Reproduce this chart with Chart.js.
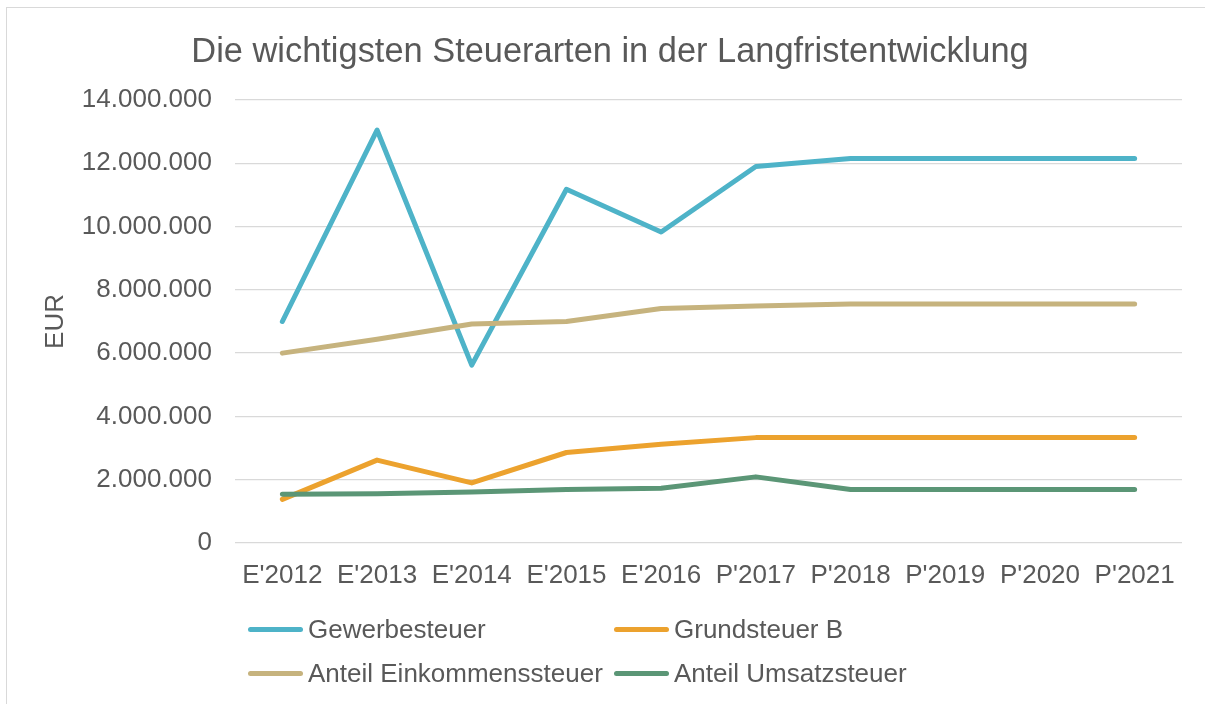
<!DOCTYPE html>
<html>
<head>
<meta charset="utf-8">
<script src="https://cdn.jsdelivr.net/npm/chart.js@4.4.1/dist/chart.umd.min.js"></script>
<style>
  html, body { margin: 0; padding: 0; background: #ffffff; width: 1205px; height: 704px; overflow: hidden; }
  body { position: relative; font-family: "Liberation Sans", Arial, sans-serif; }
  #frame { position: absolute; left: 6px; top: 7px; width: 1220px; height: 720px; border-left: 1.5px solid #d9d9d9; border-top: 1.5px solid #d9d9d9; box-sizing: border-box; }
  #wrap { position: absolute; left: 0; top: 0; width: 1205px; height: 600px; }
  #legend { position: absolute; left: 0; top: 0; width: 1205px; height: 704px; pointer-events: none; }
  .item { position: absolute; display: flex; align-items: center; height: 32px; color: #595959; font-size: 26px; white-space: nowrap; }
  .sw { width: 55px; height: 5px; border-radius: 3px; margin-right: 5px; }
</style>
</head>
<body>
<div id="frame"></div>
<div id="wrap"><canvas id="c" width="1205" height="600"></canvas></div>
<div id="legend"></div>
<script>
// ---- data ----
const categories = ["E'2012", "E'2013", "E'2014", "E'2015", "E'2016", "P'2017", "P'2018", "P'2019", "P'2020", "P'2021"];
const seriesNames = ["Gewerbesteuer", "Grundsteuer B", "Anteil Einkommenssteuer", "Anteil Umsatzsteuer"];
const gewerbesteuer = [7000000, 13050000, 5620000, 11180000, 9830000, 11900000, 12150000, 12150000, 12150000, 12150000];
const grundsteuerB = [1380000, 2620000, 1900000, 2860000, 3120000, 3330000, 3330000, 3330000, 3330000, 3330000];
const einkommensteuer = [6000000, 6440000, 6920000, 7000000, 7410000, 7490000, 7550000, 7550000, 7550000, 7550000];
const umsatzsteuer = [1540000, 1560000, 1610000, 1690000, 1730000, 2090000, 1690000, 1690000, 1690000, 1690000];
const yTicks = [0, 2000000, 4000000, 6000000, 8000000, 10000000, 12000000, 14000000];
const colors = ["#4eb3c8", "#eca22e", "#c6b37e", "#5b9676"];

const textColor = "#595959";
const fontFamily = "'Liberation Sans', Arial, sans-serif";

function fmt(v) {
  return String(Math.round(v)).replace(/\B(?=(\d{3})+(?!\d))/g, ".");
}

const seriesValues = [gewerbesteuer, grundsteuerB, einkommensteuer, umsatzsteuer];
const datasets = seriesValues.map((vals, i) => ({
  label: seriesNames[i],
  data: vals,
  borderColor: colors[i],
  backgroundColor: colors[i],
  borderWidth: 5,
  pointRadius: 0,
  pointHoverRadius: 0,
  tension: 0,
  fill: false,
  borderCapStyle: 'round',
  borderJoinStyle: 'round',
  order: seriesValues.length - i
}));

new Chart(document.getElementById('c'), {
  type: 'line',
  data: { labels: categories, datasets: datasets },
  options: {
    responsive: false,
    animation: false,
    layout: { padding: { left: 38, right: 23, top: 0, bottom: 0 } },
    plugins: {
      legend: { display: false },
      tooltip: { enabled: false },
      title: {
        display: true,
        text: 'Die wichtigsten Steuerarten in der Langfristentwicklung',
        color: textColor,
        font: { family: fontFamily, size: 34.4, weight: 'normal' },
        padding: { top: 31.5, bottom: 27.2 }
      }
    },
    scales: {
      x: {
        type: 'category',
        offset: true,
        grid: { display: false, drawTicks: false },
        border: { display: false },
        ticks: {
          color: textColor,
          font: { family: fontFamily, size: 26 },
          maxRotation: 0,
          autoSkip: false,
          padding: 17
        },
        afterFit: (s) => { s.height = 57; }
      },
      y: {
        min: 0,
        max: 14000000,
        grid: { color: '#d9d9d9', lineWidth: 1.3, drawTicks: false },
        border: { display: false },
        afterBuildTicks: (s) => { s.ticks = yTicks.map(v => ({ value: v })); },
        ticks: {
          color: textColor,
          font: { family: fontFamily, size: 26 },
          padding: 23,
          callback: (v) => fmt(v)
        },
        title: {
          display: true,
          text: 'EUR',
          color: textColor,
          font: { family: fontFamily, size: 26 },
          padding: { top: 2, bottom: 0 }
        },
        afterFit: (s) => { s.width = 197; }
      }
    }
  }
});

// HTML legend (two fixed columns like the original)
const legendPos = [[248, 613], [614, 613], [248, 657], [614, 657]];
const legendEl = document.getElementById('legend');
seriesNames.forEach((name, i) => {
  const it = document.createElement('div');
  it.className = 'item';
  it.style.left = legendPos[i][0] + 'px';
  it.style.top = legendPos[i][1] + 'px';
  const sw = document.createElement('span');
  sw.className = 'sw';
  sw.style.background = colors[i];
  const tx = document.createElement('span');
  tx.textContent = name;
  it.appendChild(sw);
  it.appendChild(tx);
  legendEl.appendChild(it);
});
</script>
</body>
</html>
